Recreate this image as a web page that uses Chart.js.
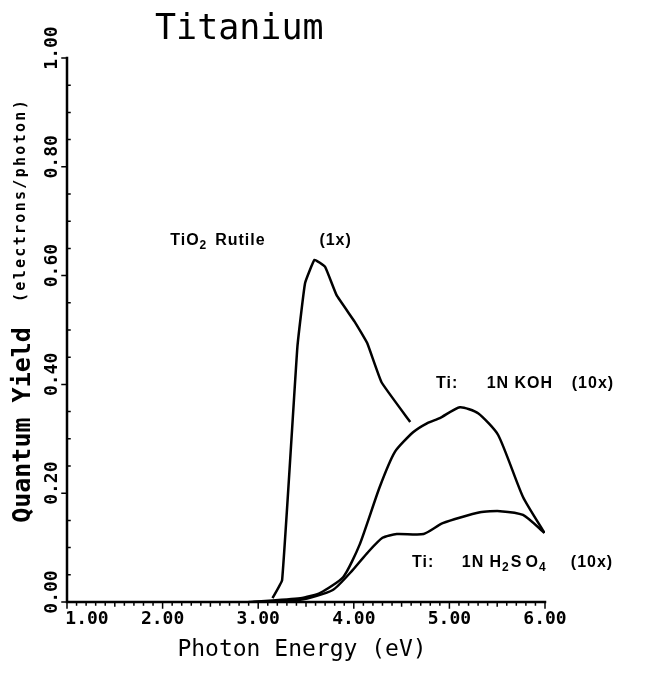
<!DOCTYPE html>
<html>
<head>
<meta charset="utf-8">
<script src="https://cdn.jsdelivr.net/npm/chart.js@4.4.0/dist/chart.umd.min.js"></script>
<style>
html, body { margin: 0; padding: 0; background: #fff; }
</style>
</head>
<body>
<canvas id="chart" width="648" height="675"></canvas>
<script>
// photon energy (eV) and quantum yield
var rutileEnergy = [3.15, 3.25, 3.41, 3.49, 3.59, 3.70, 3.82, 4.01, 4.14, 4.29, 4.59];
var rutileYield  = [0.007, 0.040, 0.469, 0.586, 0.629, 0.616, 0.564, 0.515, 0.476, 0.404, 0.331];

var kohEnergy = [2.90, 3.44, 3.65, 3.89, 4.06, 4.27, 4.43, 4.62, 4.77, 4.90, 5.11, 5.30, 5.51, 5.77, 5.995];
var kohYield  = [0, 0.007, 0.017, 0.046, 0.105, 0.211, 0.276, 0.312, 0.329, 0.338, 0.358, 0.347, 0.307, 0.193, 0.127];

var h2so4Energy = [2.95, 3.44, 3.78, 3.99, 4.14, 4.30, 4.45, 4.73, 4.93, 5.32, 5.53, 5.77, 5.995];
var h2so4Yield  = [0, 0.004, 0.022, 0.059, 0.090, 0.118, 0.125, 0.125, 0.145, 0.165, 0.167, 0.160, 0.127];

var xTicks = [1, 2, 3, 4, 5, 6];
var xTickLabels = ['1.00', '2.00', '3.00', '4.00', '5.00', '6.00'];
var yTicks = [0, 0.2, 0.4, 0.6, 0.8, 1.0];
var yTickLabels = ['0.00', '0.20', '0.40', '0.60', '0.80', '1.00'];

function pts(xs, ys) {
  return xs.map(function(x, i) { return { x: x, y: ys[i] }; });
}

function curve(label, xs, ys, tension) {
  return {
    label: label,
    data: pts(xs, ys),
    borderColor: '#000',
    borderWidth: 2.5,
    pointRadius: 0,
    fill: false,
    tension: tension
  };
}

// draw a run of text pieces; sub pieces are smaller and lowered
function drawRun(ctx, x, y, pieces, size) {
  ctx.letterSpacing = '1px';
  pieces.forEach(function(p) {
    if (p.gap) { x += p.gap; return; }
    if (p.sub) {
      ctx.font = 'bold ' + Math.round(size * 0.75) + 'px "Liberation Sans"';
      ctx.fillText(p.t, x, y + 4);
    } else {
      ctx.font = 'bold ' + size + 'px "Liberation Sans"';
      ctx.fillText(p.t, x, y);
    }
    x += ctx.measureText(p.t).width;
  });
  ctx.letterSpacing = '0px';
}

var decor = {
  id: 'decor',
  afterDraw: function(chart) {
    var ctx = chart.ctx, xs = chart.scales.x, ys = chart.scales.y;
    var a = chart.chartArea;
    ctx.save();
    ctx.strokeStyle = '#000';
    ctx.fillStyle = '#000';
    ctx.lineCap = 'square';

    // axes
    ctx.lineWidth = 2.5;
    ctx.beginPath();
    ctx.moveTo(a.left, a.top);
    ctx.lineTo(a.left, a.bottom);
    ctx.lineTo(a.right, a.bottom);
    ctx.stroke();

    // x ticks: minor every 0.1, major every 1
    ctx.lineWidth = 1.5;
    ctx.beginPath();
    for (var i = 0; i <= 50; i++) {
      var px = xs.getPixelForValue(1 + i * 0.1);
      var len = (i % 10 === 0) ? 6 : (i % 5 === 0 ? 4 : 3);
      ctx.moveTo(px, a.bottom);
      ctx.lineTo(px, a.bottom + len);
    }
    // y ticks: major outward, minor inward
    for (var j = 0; j <= 20; j++) {
      var py = ys.getPixelForValue(j * 0.05);
      if (j % 4 === 0) {
        ctx.moveTo(a.left - 5, py);
        ctx.lineTo(a.left, py);
      } else {
        ctx.moveTo(a.left, py);
        ctx.lineTo(a.left + 3, py);
      }
    }
    ctx.stroke();

    // x tick labels
    ctx.font = 'bold 18px "DejaVu Sans Mono"';
    ctx.textAlign = 'center';
    ctx.textBaseline = 'middle';
    xTicks.forEach(function(v, k) {
      var px = xs.getPixelForValue(v);
      if (k === 0) px += 20;
      ctx.fillText(xTickLabels[k], px, a.bottom + 17);
    });

    // y tick labels, rotated
    yTicks.forEach(function(v, k) {
      var py = ys.getPixelForValue(v);
      ctx.save();
      ctx.translate(a.left - 15, py - 10);
      ctx.rotate(-Math.PI / 2);
      ctx.fillText(yTickLabels[k], 0, 0);
      ctx.restore();
    });

    // title
    ctx.textAlign = 'left';
    ctx.textBaseline = 'alphabetic';
    ctx.font = '35px "DejaVu Sans Mono"';
    ctx.fillText('Titanium', 155, 39);

    // x axis title
    ctx.textAlign = 'center';
    ctx.font = '23px "DejaVu Sans Mono"';
    ctx.fillText('Photon Energy (eV)', 302, 656);

    // y axis titles
    ctx.save();
    ctx.translate(30, 425);
    ctx.rotate(-Math.PI / 2);
    ctx.font = 'bold 25px "DejaVu Sans Mono"';
    ctx.fillText('Quantum Yield', 0, 0);
    ctx.restore();

    ctx.save();
    ctx.translate(25, 200);
    ctx.rotate(-Math.PI / 2);
    ctx.font = 'bold 15px "DejaVu Sans Mono"';
    ctx.letterSpacing = '2.3px';
    ctx.fillText('(electrons/photon)', 0, 0);
    ctx.letterSpacing = '0px';
    ctx.restore();

    // curve labels
    ctx.textAlign = 'left';
    var lx = function(v) { return xs.getPixelForValue(v); };
    var ly = function(v) { return ys.getPixelForValue(v); };

    drawRun(ctx, lx(2.08), ly(0.656), [{ t: 'TiO' }, { t: '2', sub: true }], 16);
    drawRun(ctx, lx(2.55), ly(0.656), [{ t: 'Rutile' }], 16);
    drawRun(ctx, lx(3.64), ly(0.656), [{ t: '(1x)' }], 16);

    drawRun(ctx, lx(4.86), ly(0.393), [{ t: 'Ti:' }], 16);
    drawRun(ctx, lx(5.39), ly(0.393), [{ t: '1N' }], 16);
    drawRun(ctx, lx(5.68), ly(0.393), [{ t: 'KOH' }], 16);
    drawRun(ctx, lx(6.28), ly(0.393), [{ t: '(10x)' }], 16);

    drawRun(ctx, lx(4.61), ly(0.064), [{ t: 'Ti:' }], 16);
    drawRun(ctx, lx(5.13), ly(0.064), [{ t: '1N' }], 16);
    drawRun(ctx, lx(5.42), ly(0.064), [{ t: 'H' }, { t: '2', sub: true }, { gap: 1 }, { t: 'S' }, { gap: 3 }, { t: 'O' }, { t: '4', sub: true }], 16);
    drawRun(ctx, lx(6.27), ly(0.064), [{ t: '(10x)' }], 16);

    ctx.restore();
  }
};

var ctx = document.getElementById('chart').getContext('2d');
var chart = new Chart(ctx, {
  type: 'line',
  data: {
    datasets: [
      curve('TiO2 Rutile (1x)', rutileEnergy, rutileYield, 0.1),
      curve('Ti: 1N KOH (10x)', kohEnergy, kohYield, 0.2),
      curve('Ti: 1N H2SO4 (10x)', h2so4Energy, h2so4Yield, 0.2)
    ]
  },
  options: {
    responsive: false,
    animation: false,
    layout: { padding: { left: 67, right: 103, top: 58, bottom: 73 } },
    plugins: {
      legend: { display: false },
      tooltip: { enabled: false }
    },
    scales: {
      x: { type: 'linear', min: 1, max: 6, display: false },
      y: { min: 0, max: 1, display: false }
    }
  },
  plugins: [decor]
});
</script>
</body>
</html>
